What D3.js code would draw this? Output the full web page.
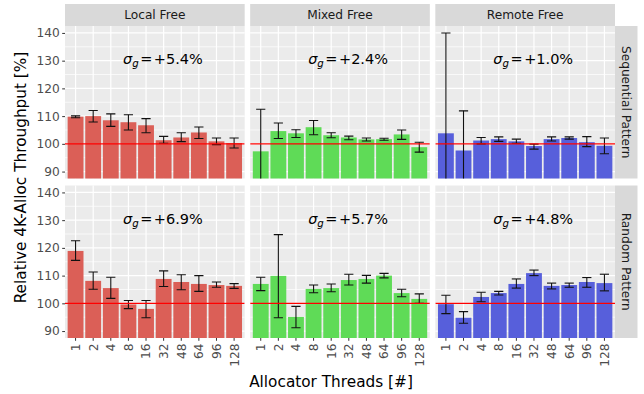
<!DOCTYPE html>
<html>
<head>
<meta charset="utf-8">
<script src="https://cdn.jsdelivr.net/npm/d3@7"></script>
<style>
  html, body { margin: 0; padding: 0; background: #fff; }
  svg { display: block; font-family: "DejaVu Sans", sans-serif; }
</style>
</head>
<body>
<svg id="chart" width="644" height="394"></svg>
<script>
// Categories
const threads = ["1", "2", "4", "8", "16", "32", "48", "64", "96", "128"];
const freeModes = ["Local Free", "Mixed Free", "Remote Free"];
const patterns = ["Sequential Pattern", "Random Pattern"];
const modeColors = ["#DB5F57", "#5FDB57", "#575FDB"];
const yTicks = [90, 100, 110, 120, 130, 140];
const yMinorTicks = [95, 105, 115, 125, 135];
const baseline = 100;

// Sequential pattern: mean, lower and upper bound per thread count
const seqLocalMean = [109.8, 110.0, 108.5, 107.8, 106.7, 101.3, 102.3, 104.1, 100.9, 100.3];
const seqLocalLow  = [109.4, 107.9, 106.3, 105.0, 104.0, 100.2, 100.8, 101.9, 99.7, 98.5];
const seqLocalHigh = [110.1, 112.0, 110.8, 110.5, 109.1, 102.7, 104.0, 106.1, 102.1, 102.1];

const seqMixedMean = [97.3, 104.6, 103.8, 106.0, 103.1, 102.3, 101.6, 101.7, 103.4, 98.8];
const seqMixedLow  = [82.1, 101.9, 102.3, 103.3, 102.2, 101.5, 101.0, 101.3, 101.6, 97.0];
const seqMixedHigh = [112.5, 107.5, 105.1, 108.4, 104.0, 102.8, 102.1, 102.0, 105.0, 100.6];

const seqRemoteMean = [103.8, 97.6, 101.2, 101.7, 100.9, 99.2, 101.7, 102.1, 100.6, 99.3];
const seqRemoteLow  = [67.6, 83.3, 100.0, 100.9, 100.2, 98.1, 101.0, 101.7, 99.0, 96.4];
const seqRemoteHigh = [140.0, 111.9, 102.3, 102.5, 101.7, 99.9, 102.5, 102.5, 102.6, 102.1];

// Random pattern: mean, lower and upper bound per thread count
const randLocalMean = [118.9, 108.1, 105.5, 99.6, 98.0, 108.8, 107.7, 107.0, 106.6, 106.3];
const randLocalLow  = [115.5, 105.1, 101.8, 98.1, 94.8, 106.1, 104.9, 104.3, 105.8, 105.4];
const randLocalHigh = [122.6, 111.3, 109.4, 101.0, 101.0, 111.7, 110.3, 110.0, 107.7, 107.1];

const randMixedMean = [107.0, 109.9, 95.1, 105.2, 105.5, 108.4, 108.8, 110.0, 103.7, 101.6];
const randMixedLow  = [104.6, 94.8, 91.2, 103.8, 104.2, 106.6, 107.3, 109.2, 102.4, 100.0];
const randMixedHigh = [109.4, 124.8, 98.9, 106.6, 107.0, 110.5, 110.1, 110.8, 105.1, 103.4];

const randRemoteMean = [99.7, 94.8, 102.3, 103.7, 107.0, 110.9, 106.3, 106.6, 107.7, 107.3];
const randRemoteLow  = [96.3, 92.8, 100.6, 103.0, 105.5, 110.0, 105.2, 105.8, 105.8, 104.5];
const randRemoteHigh = [102.9, 97.0, 104.0, 104.3, 108.8, 112.0, 107.3, 107.3, 109.3, 110.5];

// Geometric-mean speedup labels per panel
const sigmaSeq  = ["+5.4%", "+2.4%", "+1.0%"];
const sigmaRand = ["+6.9%", "+5.7%", "+4.8%"];

const panelData = [
  [
    { mean: seqLocalMean, low: seqLocalLow, high: seqLocalHigh, sigma: sigmaSeq[0] },
    { mean: seqMixedMean, low: seqMixedLow, high: seqMixedHigh, sigma: sigmaSeq[1] },
    { mean: seqRemoteMean, low: seqRemoteLow, high: seqRemoteHigh, sigma: sigmaSeq[2] }
  ],
  [
    { mean: randLocalMean, low: randLocalLow, high: randLocalHigh, sigma: sigmaRand[0] },
    { mean: randMixedMean, low: randMixedLow, high: randMixedHigh, sigma: sigmaRand[1] },
    { mean: randRemoteMean, low: randRemoteLow, high: randRemoteHigh, sigma: sigmaRand[2] }
  ]
];

// Facet geometry
const gridLeft = 65, gridRight = 615, colGap = 5.5;
const panelW = (gridRight - gridLeft - 2 * colGap) / 3;
const rowTops = [26, 185.5];
const panelH = 152.5;
const stripH = 22, stripW = 22.5;

const svg = d3.select("#chart");
const defs = svg.append("defs");

const x = d3.scaleBand().domain(threads).range([0, panelW]).paddingInner(0.1).paddingOuter(0.15);
const y = d3.scaleLinear().domain([87.5, 142.5]).range([panelH, 0]);

const tickColor = "#333333";
const labelColor = "#4D4D4D";

patterns.forEach((pattern, r) => {
  freeModes.forEach((mode, c) => {
    const px = gridLeft + c * (panelW + colGap);
    const py = rowTops[r];
    const d = panelData[r][c];
    const g = svg.append("g").attr("transform", `translate(${px},${py})`);

    const clipId = `clip-${r}-${c}`;
    defs.append("clipPath").attr("id", clipId)
      .append("rect").attr("width", panelW).attr("height", panelH);

    g.append("rect").attr("width", panelW).attr("height", panelH).attr("fill", "#EBEBEB");

    // minor grid
    g.selectAll(".minor").data(yMinorTicks).join("line")
      .attr("x1", 0).attr("x2", panelW)
      .attr("y1", v => y(v)).attr("y2", v => y(v))
      .attr("stroke", "#fff").attr("stroke-width", 0.7);
    // major grid
    g.selectAll(".majorY").data(yTicks).join("line")
      .attr("x1", 0).attr("x2", panelW)
      .attr("y1", v => y(v)).attr("y2", v => y(v))
      .attr("stroke", "#fff").attr("stroke-width", 1.2);
    g.selectAll(".majorX").data(threads).join("line")
      .attr("x1", t => x(t) + x.bandwidth() / 2).attr("x2", t => x(t) + x.bandwidth() / 2)
      .attr("y1", 0).attr("y2", panelH)
      .attr("stroke", "#fff").attr("stroke-width", 1.2);

    const body = g.append("g").attr("clip-path", `url(#${clipId})`);

    // bars
    body.selectAll("rect.bar").data(threads).join("rect")
      .attr("class", "bar")
      .attr("x", t => x(t))
      .attr("width", x.bandwidth())
      .attr("y", (t, i) => y(d.mean[i]))
      .attr("height", (t, i) => panelH + 5 - y(d.mean[i]))
      .attr("fill", modeColors[c]);

    // error bars
    const capHalf = x.bandwidth() * 0.29;
    const eb = body.selectAll("g.err").data(threads).join("g")
      .attr("transform", t => `translate(${x(t) + x.bandwidth() / 2},0)`);
    eb.append("line")
      .attr("y1", (t, i) => y(d.low[i])).attr("y2", (t, i) => y(d.high[i]))
      .attr("stroke", "#111").attr("stroke-width", 1.1);
    eb.append("line")
      .attr("x1", -capHalf).attr("x2", capHalf)
      .attr("y1", (t, i) => y(d.high[i])).attr("y2", (t, i) => y(d.high[i]))
      .attr("stroke", "#111").attr("stroke-width", 1.1);
    eb.append("line")
      .attr("x1", -capHalf).attr("x2", capHalf)
      .attr("y1", (t, i) => y(d.low[i])).attr("y2", (t, i) => y(d.low[i]))
      .attr("stroke", "#111").attr("stroke-width", 1.1);

    // reference line at 100 %
    body.append("line")
      .attr("x1", 0).attr("x2", panelW)
      .attr("y1", y(baseline)).attr("y2", y(baseline))
      .attr("stroke", "#FF0000").attr("stroke-width", 1.1);

    // sigma annotation
    const ann = g.append("text")
      .attr("x", 58).attr("y", 38)
      .attr("font-size", 14.5).attr("fill", "#000");
    ann.append("tspan").attr("font-style", "italic").text("σ");
    ann.append("tspan").attr("font-style", "italic").attr("font-size", 10.2)
      .attr("dy", 3).text("g");
    ann.append("tspan").attr("dy", -3).attr("dx", 1.5).text("=");
    ann.append("tspan").attr("dx", 1.5).text(d.sigma);

    // y axis on left column
    if (c === 0) {
      const ya = g.append("g").call(d3.axisLeft(y).tickValues(yTicks).tickSize(2.8).tickPadding(2.5));
      ya.select(".domain").remove();
      ya.selectAll(".tick line").attr("stroke", tickColor).attr("stroke-width", 1);
      ya.selectAll(".tick text").attr("fill", labelColor)
        .attr("font-size", 12.2).attr("font-family", "DejaVu Sans");
    }
    // x axis on bottom row
    if (r === patterns.length - 1) {
      const xa = g.append("g").attr("transform", `translate(0,${panelH})`)
        .call(d3.axisBottom(x).tickSize(2.8).tickPadding(2.5));
      xa.select(".domain").remove();
      xa.selectAll(".tick line").attr("stroke", tickColor).attr("stroke-width", 1);
      xa.selectAll(".tick text").attr("fill", labelColor)
        .attr("font-size", 12.2).attr("font-family", "DejaVu Sans")
        .attr("transform", "rotate(-90)")
        .attr("text-anchor", "end")
        .attr("x", -5.5).attr("y", 0).attr("dy", "0.36em");
    }

    // top strips
    if (r === 0) {
      const s = svg.append("g").attr("transform", `translate(${px},${py - stripH})`);
      s.append("rect").attr("width", panelW).attr("height", stripH).attr("fill", "#D9D9D9");
      s.append("text").attr("x", panelW / 2).attr("y", stripH / 2).attr("dy", "0.36em")
        .attr("text-anchor", "middle").attr("font-size", 12.2).attr("fill", "#1A1A1A").text(mode);
    }
  });

  // right strip
  const s = svg.append("g").attr("transform", `translate(${gridRight},${rowTops[r]})`);
  s.append("rect").attr("width", stripW).attr("height", panelH).attr("fill", "#D9D9D9");
  s.append("text")
    .attr("transform", `translate(${stripW / 2},${panelH / 2}) rotate(90)`)
    .attr("dy", "0.36em").attr("text-anchor", "middle")
    .attr("font-size", 12.2).attr("fill", "#1A1A1A").text(pattern);
});

// axis titles
svg.append("text")
  .attr("x", 331).attr("y", 387)
  .attr("text-anchor", "middle").attr("font-size", 15.3).attr("fill", "#000")
  .text("Allocator Threads [#]");
svg.append("text")
  .attr("transform", "translate(26,177.5) rotate(-90)")
  .attr("text-anchor", "middle").attr("font-size", 15.3).attr("fill", "#000")
  .text("Relative 4K-Alloc Throughput [%]");
</script>
</body>
</html>
